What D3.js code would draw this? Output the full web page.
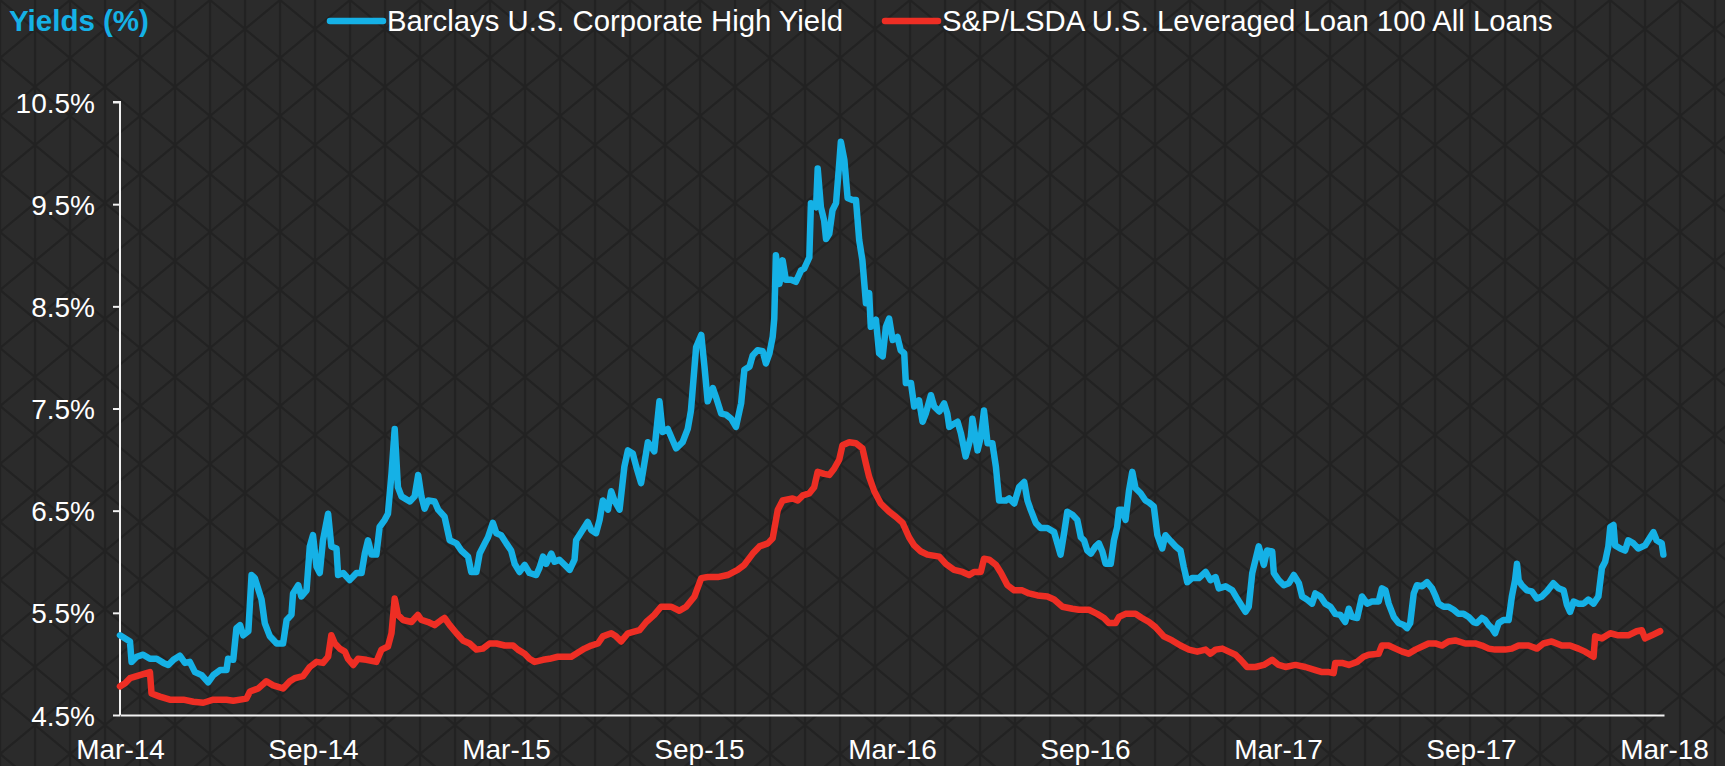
<!DOCTYPE html>
<html>
<head>
<meta charset="utf-8">
<script src="https://cdn.jsdelivr.net/npm/d3@7"></script>
<style>
  html, body { margin: 0; padding: 0; background: #2a2a2a; }
  svg { display: block; }
  text { font-family: "Liberation Sans", Arial, sans-serif; }
</style>
</head>
<body>
<svg id="chart" width="1725" height="766"></svg>
<script>
// x values are months since Mar-2014, y values are yields in %
const xTickLabels = ["Mar-14","Sep-14","Mar-15","Sep-15","Mar-16","Sep-16","Mar-17","Sep-17","Mar-18"];
const xTickMonths = [0, 6, 12, 18, 24, 30, 36, 42, 48];
const yTicks = [4.5, 5.5, 6.5, 7.5, 8.5, 9.5, 10.5];
const seriesNames = ["Barclays U.S. Corporate High Yield", "S&P/LSDA U.S. Leveraged Loan 100 All Loans"];
const seriesColors = ["#15b1e6", "#ee2e24"];

const highYield = [
[0,5.28],[0.31,5.22],[0.36,5.02],[0.52,5.07],[0.72,5.09],[0.93,5.05],[1.14,5.05],[1.35,5.01],[1.50,4.99],[1.66,5.04],[1.86,5.08],[2.02,5.01],[2.17,5.02],[2.33,4.92],[2.54,4.89],[2.74,4.82],[2.90,4.89],[3.11,4.94],[3.31,4.94],[3.36,5.05],[3.52,5.04],[3.62,5.35],[3.73,5.38],[3.83,5.28],[3.99,5.32],[4.09,5.87],[4.19,5.84],[4.40,5.63],[4.50,5.40],[4.66,5.27],[4.87,5.20],[5.07,5.20],[5.18,5.43],[5.33,5.48],[5.38,5.69],[5.54,5.77],[5.64,5.66],[5.80,5.72],[5.90,6.15],[6.00,6.26],[6.11,5.95],[6.21,5.89],[6.31,6.21],[6.47,6.47],[6.57,6.15],[6.73,6.13],[6.78,5.87],[6.94,5.89],[7.14,5.82],[7.35,5.89],[7.51,5.89],[7.61,6.08],[7.71,6.21],[7.82,6.07],[7.97,6.07],[8.07,6.34],[8.23,6.41],[8.33,6.47],[8.44,6.86],[8.54,7.30],[8.64,6.73],[8.75,6.64],[9.01,6.59],[9.16,6.64],[9.27,6.85],[9.37,6.64],[9.47,6.52],[9.58,6.60],[9.78,6.59],[9.89,6.51],[10.09,6.44],[10.25,6.21],[10.46,6.18],[10.61,6.11],[10.82,6.05],[10.92,5.90],[11.08,5.90],[11.18,6.08],[11.34,6.18],[11.44,6.24],[11.59,6.38],[11.70,6.28],[11.85,6.26],[12.01,6.18],[12.16,6.11],[12.27,5.98],[12.42,5.90],[12.58,5.97],[12.73,5.89],[12.94,5.87],[13.04,5.94],[13.15,6.05],[13.25,5.98],[13.41,6.08],[13.51,6.00],[13.66,6.02],[13.82,5.97],[13.98,5.92],[14.13,6.02],[14.18,6.21],[14.34,6.29],[14.54,6.39],[14.65,6.31],[14.80,6.28],[14.91,6.41],[15.01,6.60],[15.17,6.51],[15.27,6.69],[15.37,6.60],[15.53,6.51],[15.68,6.93],[15.79,7.09],
[15.94,7.06],[16.05,6.93],[16.20,6.77],[16.30,6.96],[16.41,7.17],[16.61,7.08],[16.77,7.57],[16.87,7.27],[17.03,7.30],[17.18,7.19],[17.29,7.11],[17.49,7.17],[17.65,7.30],[17.75,7.48],[17.91,8.10],[18.07,8.22],[18.17,7.91],[18.27,7.57],[18.43,7.70],[18.53,7.61],[18.69,7.45],[18.84,7.44],[19.00,7.40],[19.15,7.32],[19.31,7.55],[19.41,7.88],[19.57,7.91],[19.67,8.02],[19.82,8.07],[19.98,8.06],[20.08,7.94],[20.19,8.04],[20.29,8.20],[20.34,8.38],[20.39,9.00],[20.50,8.72],[20.60,8.95],[20.70,8.76],[20.86,8.76],[21.01,8.74],[21.17,8.85],[21.27,8.87],[21.43,8.98],[21.48,9.51],[21.64,9.47],[21.69,9.85],[21.79,9.47],[21.89,9.34],[21.95,9.16],[22.05,9.21],[22.15,9.44],[22.26,9.51],[22.36,9.90],[22.41,10.11],[22.52,9.93],[22.62,9.56],[22.77,9.54],[22.88,9.54],[22.98,9.15],[23.08,8.95],[23.19,8.53],[23.29,8.63],[23.34,8.30],[23.50,8.37],[23.60,8.04],[23.71,8.01],[23.81,8.30],[23.91,8.38],[24.02,8.17],[24.17,8.20],[24.27,8.07],[24.38,8.04],[24.43,7.75],[24.59,7.75],[24.69,7.52],[24.84,7.58],[24.95,7.37],[25.05,7.45],[25.21,7.63],[25.31,7.52],[25.47,7.47],[25.62,7.55],[25.72,7.45],[25.78,7.32],[25.93,7.35],[26.04,7.37],[26.14,7.26],[26.29,7.03],[26.45,7.22],[26.50,7.40],[26.66,7.09],[26.76,7.22],[26.86,7.48],[26.97,7.16],[27.12,7.16],[27.23,6.93],
[27.33,6.60],[27.54,6.60],[27.64,6.62],[27.80,6.57],[27.95,6.73],[28.11,6.78],[28.21,6.60],[28.31,6.51],[28.47,6.38],[28.62,6.33],[28.83,6.33],[29.04,6.29],[29.14,6.18],[29.24,6.07],[29.35,6.28],[29.45,6.49],[29.61,6.46],[29.76,6.41],[29.87,6.24],[29.97,6.21],[30.07,6.11],[30.18,6.08],[30.33,6.15],[30.43,6.18],[30.54,6.10],[30.64,5.98],[30.80,5.98],[30.90,6.21],[31.00,6.34],[31.06,6.51],[31.16,6.51],[31.26,6.41],[31.37,6.70],[31.47,6.88],[31.57,6.72],[31.73,6.67],[31.88,6.60],[31.99,6.58],
[32.14,6.54],[32.25,6.26],[32.40,6.13],[32.50,6.26],[32.67,6.20],[32.82,6.15],[32.97,6.11],[33.07,5.95],[33.18,5.80],[33.33,5.84],[33.54,5.84],[33.75,5.90],[33.90,5.82],[34.06,5.85],[34.16,5.74],[34.37,5.76],[34.58,5.72],[34.73,5.64],[34.89,5.56],[34.99,5.51],[35.09,5.56],[35.20,5.89],[35.30,6.02],[35.40,6.15],[35.56,5.97],[35.66,6.11],[35.82,6.10],[35.87,5.89],[36.02,5.82],[36.18,5.77],[36.34,5.79],[36.49,5.87],[36.65,5.79],[36.75,5.66],[36.90,5.63],[37.06,5.59],[37.16,5.69],[37.32,5.66],[37.47,5.59],[37.63,5.56],[37.78,5.49],[37.94,5.48],[38.09,5.41],[38.20,5.54],[38.30,5.46],[38.46,5.45],[38.61,5.66],[38.77,5.59],[38.92,5.61],[39.13,5.61],[39.23,5.74],[39.34,5.72],[39.44,5.59],[39.60,5.46],[39.75,5.40],[39.91,5.38],[40.01,5.35],[40.11,5.40],[40.22,5.69],[40.32,5.77],[40.48,5.76],[40.63,5.80],[40.79,5.74],[40.89,5.67],[40.99,5.59],[41.15,5.56],[41.30,5.56],[41.46,5.53],[41.61,5.49],[41.77,5.49],[41.93,5.46],[42.08,5.41],[42.18,5.40],[42.34,5.45],[42.44,5.43],[42.55,5.38],[42.65,5.35],[42.75,5.30],[42.86,5.40],[43.01,5.43],[43.17,5.43],[43.27,5.66],[43.37,5.82],[43.43,5.98],[43.48,5.82],[43.58,5.77],[43.74,5.72],[43.89,5.71],[44.05,5.64],[44.20,5.66],[44.36,5.71],[44.56,5.79],[44.72,5.74],[44.88,5.72],[44.98,5.58],[45.08,5.51],[45.19,5.61],[45.34,5.59],[45.50,5.59],[45.65,5.63],[45.81,5.59],[45.96,5.66],[46.07,5.94],[46.17,6.00],[46.27,6.15],[46.33,6.34],[46.43,6.36],[46.48,6.16],[46.64,6.13],[46.79,6.11],[46.89,6.21],[47.05,6.18],[47.20,6.13],[47.41,6.16],[47.57,6.24],[47.67,6.29],[47.77,6.21],[47.93,6.18],[47.98,6.07]
];

const leveragedLoan = [
[0,4.78],[0.16,4.81],[0.31,4.86],[0.62,4.89],[0.93,4.92],[0.98,4.71],[1.24,4.68],[1.55,4.65],[1.97,4.65],[2.28,4.63],[2.59,4.62],[2.90,4.65],[3.31,4.65],[3.52,4.64],[3.93,4.66],[4.04,4.73],[4.30,4.76],[4.55,4.83],[4.76,4.79],[5.07,4.76],[5.28,4.83],[5.43,4.86],[5.69,4.88],[5.90,4.97],[6.11,5.02],[6.31,5.01],[6.47,5.07],[6.57,5.28],[6.68,5.20],[6.83,5.15],[6.99,5.12],[7.09,5.05],[7.25,4.99],[7.40,5.05],[7.66,5.04],[7.97,5.02],[8.13,5.14],[8.33,5.17],[8.44,5.30],[8.54,5.64],[8.64,5.48],[8.80,5.43],[9.06,5.41],[9.26,5.48],[9.37,5.43],[9.58,5.41],[9.78,5.38],[9.99,5.43],[10.09,5.45],[10.25,5.38],[10.46,5.30],[10.66,5.23],[10.87,5.20],[11.08,5.14],[11.28,5.15],[11.49,5.20],[11.70,5.20],[11.96,5.18],[12.22,5.18],[12.37,5.14],[12.58,5.10],[12.73,5.05],[12.89,5.02],[13.15,5.04],[13.35,5.05],[13.61,5.07],[13.82,5.07],[14.03,5.07],[14.18,5.10],[14.44,5.15],[14.65,5.18],[14.86,5.20],[15.01,5.27],[15.27,5.30],[15.42,5.27],[15.58,5.22],[15.79,5.30],
[16.15,5.33],[16.36,5.41],[16.61,5.48],[16.82,5.56],[17.13,5.56],[17.39,5.52],[17.60,5.56],[17.86,5.66],[18.07,5.84],[18.27,5.85],[18.58,5.85],[18.89,5.87],[19.20,5.92],[19.41,5.97],[19.67,6.08],[19.88,6.15],[20.14,6.18],[20.29,6.23],[20.45,6.51],[20.60,6.60],[20.91,6.62],[21.07,6.60],[21.23,6.65],[21.43,6.67],[21.58,6.73],[21.69,6.88],[21.89,6.86],[22.05,6.85],[22.20,6.91],[22.36,7.00],[22.46,7.14],[22.67,7.17],[22.88,7.16],[23.08,7.11],[23.19,6.96],[23.29,6.83],[23.45,6.69],[23.65,6.57],[23.91,6.49],[24.12,6.44],[24.33,6.38],[24.53,6.24],[24.69,6.16],[24.90,6.10],[25.10,6.07],[25.47,6.05],[25.67,5.98],[25.93,5.92],[26.19,5.90],[26.40,5.87],[26.55,5.90],[26.76,5.90],[26.86,6.03],[27.02,6.02],[27.23,5.97],[27.39,5.89],[27.59,5.77],[27.80,5.72],[28.05,5.72],[28.26,5.69],[28.52,5.67],[28.83,5.66],[29.04,5.63],[29.30,5.56],[29.61,5.54],[29.81,5.53],[30.12,5.53],[30.38,5.49],[30.59,5.45],[30.74,5.40],[30.95,5.40],[31.06,5.46],[31.26,5.49],[31.57,5.49],[31.77,5.45],[31.99,5.41],
[32.19,5.36],[32.45,5.27],[32.71,5.23],[32.97,5.18],[33.23,5.14],[33.49,5.12],[33.75,5.14],[33.90,5.10],[34.06,5.14],[34.27,5.15],[34.47,5.12],[34.68,5.09],[34.84,5.04],[35.04,4.97],[35.30,4.97],[35.56,4.99],[35.82,5.04],[36.02,4.99],[36.23,4.97],[36.54,4.99],[36.85,4.97],[37.16,4.94],[37.37,4.92],[37.58,4.92],[37.73,4.91],[37.78,5.01],[37.99,5.01],[38.20,4.99],[38.46,5.02],[38.66,5.07],[38.82,5.09],[39.13,5.10],[39.23,5.18],[39.44,5.18],[39.65,5.15],[39.86,5.12],[40.06,5.10],[40.27,5.14],[40.48,5.17],[40.68,5.20],[40.89,5.20],[41.10,5.18],[41.30,5.22],[41.51,5.23],[41.82,5.20],[42.13,5.20],[42.34,5.18],[42.55,5.15],[42.75,5.14],[43.06,5.14],[43.27,5.15],[43.48,5.18],[43.79,5.18],[44.05,5.15],[44.25,5.20],[44.51,5.22],[44.82,5.18],[45.08,5.18],[45.34,5.15],[45.55,5.12],[45.81,5.07],[45.86,5.27],[46.07,5.25],[46.33,5.30],[46.58,5.28],[46.89,5.28],[47.15,5.32],[47.31,5.33],[47.41,5.25],[47.62,5.28],[47.88,5.32]
];

const W = 1725, H = 766;
const margin = { left: 120, right: 61, top: 102, bottom: 51 };
const svg = d3.select("#chart");

// background pattern
const defs = svg.append("defs");
const pat = defs.append("pattern")
  .attr("id", "bgpat").attr("patternUnits", "userSpaceOnUse")
  .attr("width", 70).attr("height", 116).attr("x", 0).attr("y", 0);
pat.append("rect").attr("width", 70).attr("height", 116).attr("fill", "#2b2b2b");
pat.append("path")
  .attr("d", "M0,0 L70,58 L0,116 M70,0 L0,58 L70,116 M0,0 V116 M35,0 V116 M70,0 V116")
  .attr("stroke", "#1f1f1f").attr("stroke-width", 2.4).attr("fill", "none").attr("opacity", 0.8);
svg.append("rect").attr("width", W).attr("height", H).attr("fill", "url(#bgpat)");

const x = d3.scaleLinear().domain([0, 48]).range([margin.left, W - margin.right]);
const y = d3.scaleLinear().domain([4.5, 10.5]).range([H - margin.bottom, margin.top]);

// Y axis
const yAxis = d3.axisLeft(y).tickValues(yTicks).tickSize(7).tickPadding(18)
  .tickFormat(d => d.toFixed(1) + "%");
const gy = svg.append("g").attr("transform", `translate(${margin.left},0)`).call(yAxis);
gy.select(".domain").attr("stroke", "#f2f2f2").attr("stroke-width", 2).attr("d", `M-7,${y(10.5)}H0V${y(4.5)}`);
gy.selectAll(".tick line").attr("stroke", "#f2f2f2").attr("stroke-width", 2);
gy.selectAll(".tick text").attr("fill", "#ffffff").style("font-size", "28px")
  .style("font-family", "'Liberation Sans', Arial, sans-serif").attr("dy", "0.36em");

// X axis
const xAxis = d3.axisBottom(x).tickValues(xTickMonths).tickSize(0).tickPadding(24)
  .tickFormat((d, i) => xTickLabels[i]);
const gx = svg.append("g").attr("transform", `translate(0,${H - margin.bottom})`).call(xAxis);
gx.select(".domain").attr("stroke", "#f2f2f2").attr("stroke-width", 2.2);
gx.selectAll(".tick text").attr("fill", "#ffffff").style("font-size", "28px")
  .style("font-family", "'Liberation Sans', Arial, sans-serif").attr("dy", "0.71em");

// lines
const line = d3.line().x(d => x(d[0])).y(d => y(d[1]));
[highYield, leveragedLoan].forEach((data, i) => {
  svg.append("path").datum(data)
    .attr("fill", "none").attr("stroke", seriesColors[i])
    .attr("stroke-width", 6.5).attr("stroke-linejoin", "round").attr("stroke-linecap", "round")
    .attr("d", line);
});

// Title
svg.append("text").attr("x", 9).attr("y", 31)
  .attr("fill", "#15b1e6").style("font-size", "29.5px").style("font-weight", "bold")
  .text("Yields (%)");

// Legend
const legendX = [327, 882];
seriesNames.forEach((name, i) => {
  const g = svg.append("g").attr("transform", `translate(${legendX[i]},21)`);
  g.append("line").attr("x1", 3).attr("x2", 56).attr("y1", 0).attr("y2", 0)
    .attr("stroke", seriesColors[i]).attr("stroke-width", 6.5).attr("stroke-linecap", "round");
  g.append("text").attr("x", 60).attr("y", 10).attr("fill", "#ffffff")
    .style("font-size", "29.3px").text(name);
});
</script>
</body>
</html>
